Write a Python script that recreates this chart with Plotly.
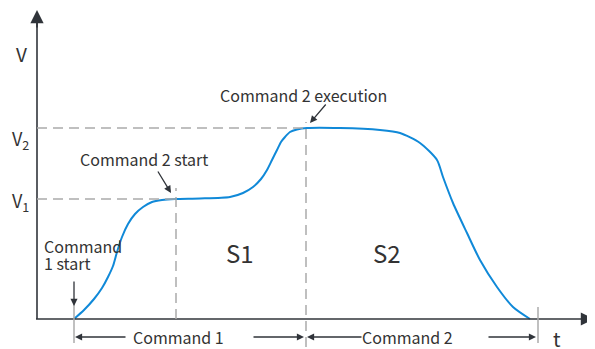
import plotly.graph_objects as go

# ---- data (t: time units, v: velocity units) ----
curve_t = [37, 47, 57, 65, 71, 76, 80, 85, 91, 98, 106, 115, 125, 138, 163, 193, 206, 216, 224,
           230, 235, 240, 244, 248, 253, 260, 270, 303, 343, 363, 383, 400, 406, 416, 430, 443,
           460, 476, 493]
curve_v = [0, 9, 20, 31, 42, 53, 67, 82, 95, 105, 112, 117, 119, 120, 120.5, 122, 126, 132, 140,
           149, 159, 169, 177, 182, 187, 189.5, 191, 191, 189, 186, 176, 159, 142, 116, 86, 59,
           32, 12, 0]

level_values = [120, 191]            # V1, V2
level_labels = ["V<sub>1</sub>", "V<sub>2</sub>"]
level_label_v = [118, 180]

event_t = [37, 139, 269, 501]        # cmd1 start, cmd2 start, cmd2 execution, end
segment_labels = ["Command 1", "Command 2"]
area_labels = ["S1", "S2"]
area_label_t = [203, 350]

TXT = "#333333"
AX = "#30343a"
DASH = "#ababab"
BLUE = "#1089d8"
FONT = "Noto Sans CJK SC"

fig = go.Figure()
fig.add_trace(go.Scatter(x=curve_t, y=curve_v, mode="lines",
                         line=dict(color=BLUE, width=2, shape="spline", smoothing=0.7),
                         hoverinfo="skip"))

shapes = []
# axes
shapes.append(dict(type="line", x0=-1, x1=556, y0=0, y1=0, line=dict(color=AX, width=1.6)))
shapes.append(dict(type="line", x0=0, x1=0, y0=0, y1=298, line=dict(color=AX, width=1.6)))
# horizontal dashed guides to V1 / V2
shapes.append(dict(type="line", x0=0, x1=event_t[1], y0=level_values[0], y1=level_values[0],
                   line=dict(color=DASH, width=1.5, dash="10px,6px")))
shapes.append(dict(type="line", x0=0, x1=event_t[2], y0=level_values[1], y1=level_values[1],
                   line=dict(color=DASH, width=1.5, dash="10px,6px")))
# vertical dashed guides
shapes.append(dict(type="line", x0=event_t[1], x1=event_t[1], y0=0, y1=131,
                   line=dict(color=DASH, width=1.5, dash="10px,6px")))
shapes.append(dict(type="line", x0=event_t[2], x1=event_t[2], y0=-28, y1=197,
                   line=dict(color=DASH, width=1.5, dash="10px,6px")))
# small ticks at start / end
shapes.append(dict(type="line", x0=event_t[0], x1=event_t[0], y0=-24, y1=16,
                   line=dict(color=DASH, width=1.5)))
shapes.append(dict(type="line", x0=event_t[3], x1=event_t[3], y0=-24, y1=12,
                   line=dict(color=DASH, width=1.5)))

ann = []
def arrow(tx, tv, hx, hv, w=1.3, s=1.1, color=AX):
    ann.append(dict(x=hx, y=hv, ax=tx, ay=tv, xref="x", yref="y", axref="x", ayref="y",
                    text="", showarrow=True, arrowhead=2, arrowwidth=w, arrowsize=s,
                    arrowcolor=color, standoff=0, startstandoff=0))

def label(x, y, text, size=16, xanchor="center"):
    ann.append(dict(x=x, y=y, xref="x", yref="y", text=text, showarrow=False,
                    xanchor=xanchor, yanchor="middle",
                    font=dict(family=FONT, size=size, color=TXT)))

W, H = 587, 341   # page body adds an 8px margin

# axis arrowheads
arrow(0, 290, 0, 309, w=1.6, s=1.65, color=AX)
ann.append(dict(x=598 / W, y=0, xref="paper", yref="y", ax=-20, ay=0, text="",
                showarrow=True, arrowhead=2, arrowwidth=1.6, arrowsize=1.65,
                arrowcolor=AX, standoff=0))

# pointer arrows
arrow(event_t[0], 39, event_t[0], 13)                 # command 1 start
arrow(120, 149, 134, 126)                             # command 2 start
arrow(290, 216, 273, 196)                             # command 2 execution

# duration arrows
yb = -18
arrow(90, yb, event_t[0] + 1, yb)
arrow(215, yb, event_t[2] - 2, yb)
arrow(326, yb, event_t[2] + 1, yb)
arrow(450, yb, event_t[3] - 2, yb)

# texts
label(107, 160, "Command 2 start")
label(266.5, 224, "Command 2 execution")
label(5, 73, "Command", xanchor="left")
label(5, 56, "1 start", xanchor="left")
label(141, yb, segment_labels[0])
label(370, yb, segment_labels[1])
for t, s in zip(area_label_t, area_labels):
    label(t, 67, s, size=24)
label(-15.5, 266, "V", size=19)
for v, s in zip(level_label_v, level_labels):
    label(-17, v, s, size=18)
label(520, -19, "t", size=20)

fig.update_layout(
    width=W, height=H, margin=dict(l=0, r=0, t=0, b=0),
    paper_bgcolor="white", plot_bgcolor="white", showlegend=False,
    xaxis=dict(range=[-29, 558], visible=False, fixedrange=True),
    yaxis=dict(range=[-30, 311], visible=False, fixedrange=True),
    shapes=shapes, annotations=ann,
)

fig.write_html("out.html")
